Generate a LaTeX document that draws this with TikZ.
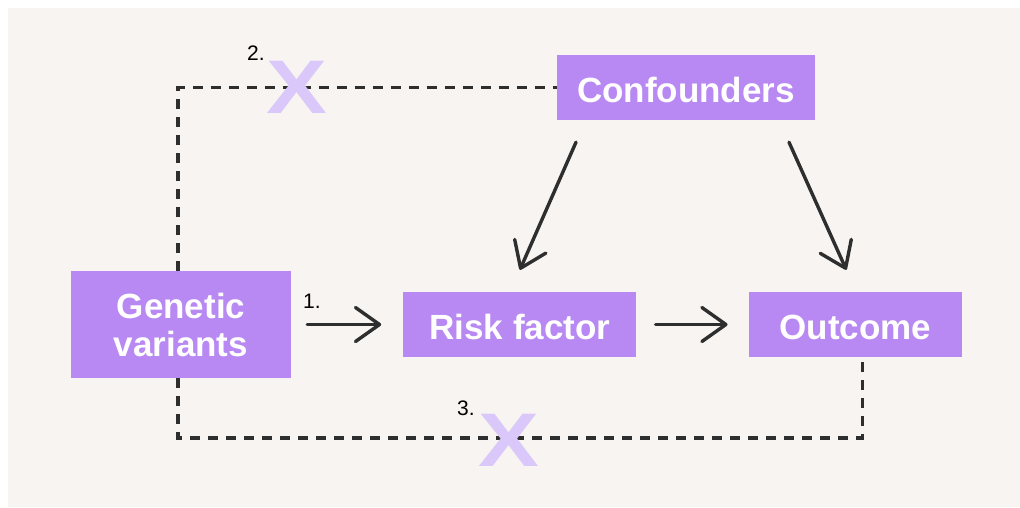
\documentclass[tikz,border=0pt]{standalone}
\usepackage{fontspec}
\setmainfont{Liberation Sans}
\usepackage{xcolor}
\usepackage{tikz}
\usetikzlibrary{arrows.meta, positioning}
\definecolor{bgbeige}{HTML}{F7F4F1}
\definecolor{boxpurple}{HTML}{B888F3}
\definecolor{crosslav}{HTML}{DAC8FA}
\definecolor{linegray}{HTML}{2E2E2E}
\tikzstyle{box}=[rectangle, fill=boxpurple, text=white, inner sep=0pt, align=center, font=\fontsize{35}{38}\selectfont\bfseries]
\tikzstyle{onebox}=[box, minimum height=65pt, text height=31pt]
\tikzstyle{arr}=[draw=linegray, line width=3.4pt, line cap=round, -{Straight Barb[round, length=24pt, width=34pt]}]
\tikzstyle{dashline}=[draw=linegray, line width=3.4pt, dash pattern=on 10pt off 8pt]
\tikzstyle{cross}=[text=crosslav, inner sep=0pt, font=\fontsize{76}{76}\selectfont\bfseries, xscale=1.2]
\tikzstyle{num}=[text=black, inner sep=0pt, font=\fontsize{21}{21}\selectfont]

\begin{document}
\begin{tikzpicture}[x=1pt, y=-1pt]

% Background
\fill[white] (0,0) rectangle (1020,507);
\fill[bgbeige] (8,8) rectangle (1020,507);
\useasboundingbox (0,0) rectangle (1020,507);

% Boxes
\node[onebox, minimum width=258pt] (conf) at (686,87.5) {Confounders};
\node[box, minimum width=220pt, minimum height=107pt] (gen) at (181,324.5) {Genetic\\variants};
\node[onebox, minimum width=233pt, right=112pt of gen] (risk) {Risk factor};
\node[onebox, minimum width=213pt, right=112pt of risk] (out) {Outcome};

% Dashed paths
\coordinate (low) at (178,438);
\draw[dashline] ([xshift=-3pt]gen.north) |- (conf.west);
\draw[dashline] ([xshift=-3pt]gen.south) -- (low) -| ([xshift=7pt]out.south);

% Arrows
\draw[arr, shorten <=16pt, shorten >=22pt] (gen.east |- risk.west) -- (risk.west);
\draw[arr, shorten <=19pt, shorten >=21pt] (risk.east) -- (out.west);
\draw[arr] ([xshift=-110pt, yshift=-22pt]conf.south) -- ([yshift=22pt]risk.north);
\draw[arr] ([xshift=103pt, yshift=-22pt]conf.south) -- ([xshift=-9pt, yshift=22pt]out.north);

% Crosses and numbers
\node[cross] (x2) at (297,87) {X};
\node[cross] (x3) at (509,440) {X};
\node[num] (n1) at (312,301) {1.};
\node[num] (n2) at (256,53) {2.};
\node[num] (n3) at (466,408) {3.};

\end{tikzpicture}
\end{document}
